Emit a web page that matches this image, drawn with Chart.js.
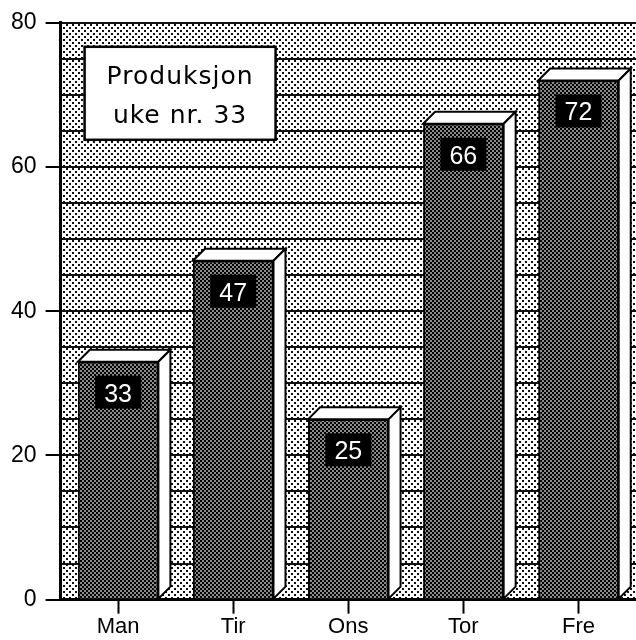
<!DOCTYPE html>
<html>
<head>
<meta charset="utf-8">
<script src="https://cdn.jsdelivr.net/npm/chart.js@4/dist/chart.umd.min.js"></script>
<style>
  body { margin: 0; background: #fff; }
  #wrap { width: 636px; height: 640px; }
</style>
</head>
<body>
<div id="wrap"><canvas id="prodChart" width="636" height="640"></canvas></div>
<script>
// data
var days = ['Man', 'Tir', 'Ons', 'Tor', 'Fre'];
var produced = [33, 47, 25, 66, 72];
var titleLines = ['Produksjon', 'uke nr. 33'];

// dotted fill patterns
function makePattern(size, draw) {
    var c = document.createElement('canvas');
    c.width = size; c.height = size;
    var g = c.getContext('2d');
    draw(g);
    return g.createPattern(c, 'repeat');
}

var ctx = document.getElementById('prodChart').getContext('2d');

var bgPattern = makePattern(6, function (g) {
    g.fillStyle = '#fff';
    g.fillRect(0, 0, 6, 6);
    g.fillStyle = '#111';
    g.fillRect(0, 0, 2, 2);
    g.fillRect(3, 3, 2, 2);
});

var barPattern = makePattern(4, function (g) {
    g.fillStyle = '#8a8a8a';
    g.fillRect(0, 0, 4, 4);
    g.fillStyle = '#000';
    g.fillRect(0, 0, 2, 2);
    g.fillRect(2, 2, 2, 2);
});

// paints the chart area background
var areaBg = {
    id: 'areaBg',
    beforeDraw: function (chart) {
        var a = chart.chartArea;
        var c = chart.ctx;
        c.save();
        c.fillStyle = bgPattern;
        c.fillRect(a.left, a.top, a.right - a.left, a.bottom - a.top);
        c.restore();
    }
};

// white top + side faces and the black value boxes
var bar3d = {
    id: 'bar3d',
    afterDatasetsDraw: function (chart) {
        var c = chart.ctx;
        var meta = chart.getDatasetMeta(0);
        var d = 12;
        c.save();
        c.lineWidth = 2;
        c.strokeStyle = '#000';
        c.lineJoin = 'miter';
        meta.data.forEach(function (bar, i) {
            var l = bar.x - bar.width / 2;
            var r = bar.x + bar.width / 2;
            var t = bar.y;
            var b = bar.base;

            // top face
            c.beginPath();
            c.moveTo(l, t);
            c.lineTo(l + d, t - d);
            c.lineTo(r + d, t - d);
            c.lineTo(r, t);
            c.closePath();
            c.fillStyle = '#fff';
            c.fill();
            c.stroke();

            // side face
            c.beginPath();
            c.moveTo(r, t);
            c.lineTo(r + d, t - d);
            c.lineTo(r + d, b - d);
            c.lineTo(r, b);
            c.closePath();
            c.fill();
            c.stroke();

            // value label
            var bw = 46, bh = 33;
            c.fillStyle = '#000';
            c.fillRect(bar.x - bw / 2, t + 14, bw, bh);
            c.fillStyle = '#fff';
            c.font = '25px "Liberation Sans"';
            c.textAlign = 'center';
            c.textBaseline = 'alphabetic';
            c.fillText(String(produced[i]), bar.x, t + 40);
        });
        c.restore();
    }
};

// title box in the upper left
var titleBox = {
    id: 'titleBox',
    afterDraw: function (chart) {
        var a = chart.chartArea;
        var c = chart.ctx;
        var x = a.left + 24, y = a.top + 24, w = 191, h = 93;
        c.save();
        c.fillStyle = '#fff';
        c.fillRect(x, y, w, h);
        c.lineWidth = 2.5;
        c.strokeStyle = '#000';
        c.strokeRect(x, y, w, h);
        c.fillStyle = '#000';
        c.font = '25px "DejaVu Sans"';
        c.letterSpacing = '1px';
        c.textAlign = 'center';
        c.textBaseline = 'alphabetic';
        c.fillText(titleLines[0], x + w / 2, y + 37);
        c.fillText(titleLines[1], x + w / 2, y + 76);
        c.restore();
    }
};

// make the chart
const prodChart = new Chart(ctx, {
    type: 'bar',
    data: {
        labels: days,
        datasets: [{
            data: produced,
            backgroundColor: barPattern,
            borderColor: '#000',
            borderWidth: 2,
            borderSkipped: 'bottom',
            barPercentage: 0.7,
            categoryPercentage: 1.0
        }]
    },
    options: {
        responsive: false,
        animation: false,
        layout: {
            padding: { top: 21, left: 2, right: 0, bottom: 0 }
        },
        plugins: {
            legend: { display: false },
            tooltip: { enabled: false }
        },
        scales: {
            x: {
                grid: {
                    offset: false,
                    drawOnChartArea: false,
                    tickLength: 14,
                    tickColor: '#000',
                    tickWidth: 2
                },
                border: { color: '#000', width: 3 },
                ticks: {
                    color: '#000',
                    padding: 0,
                    font: { family: 'Liberation Sans', size: 22 }
                }
            },
            y: {
                min: 0,
                max: 80,
                grid: {
                    color: '#111',
                    lineWidth: 2,
                    tickLength: 15,
                    tickWidth: 2,
                    tickColor: function (c) {
                        return c.tick && c.tick.value % 20 === 0 ? '#000' : 'rgba(0,0,0,0)';
                    }
                },
                border: { color: '#000', width: 3 },
                ticks: {
                    stepSize: 5,
                    color: '#000',
                    padding: 9,
                    font: { family: 'Liberation Sans', size: 23 },
                    callback: function (v) {
                        return v % 20 === 0 ? v : '';
                    }
                }
            }
        }
    },
    plugins: [areaBg, bar3d, titleBox]
});
</script>
</body>
</html>
